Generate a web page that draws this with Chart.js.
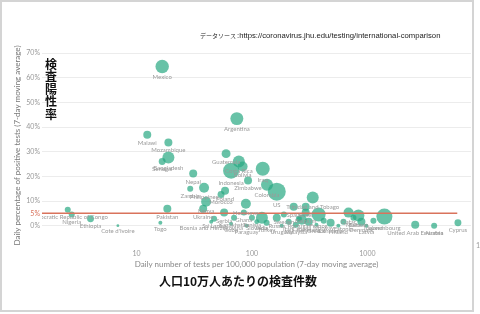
<!DOCTYPE html>
<html>
<head>
<meta charset="utf-8">
<script src="https://cdn.jsdelivr.net/npm/chart.js@4.4.0/dist/chart.umd.min.js"></script>
<style>
  html, body { margin: 0; padding: 0; background: #fff; overflow: hidden; }
  #wrap { width: 480px; height: 314px; }
</style>
</head>
<body>
<div id="wrap"><canvas id="bubbleChart" width="480" height="314"></canvas></div>
<script>
  // country names, tests per 100k (x), positivity % (y), bubble size value
  let countries = [
    "Mexico", "Argentina", "Malawi", "Mozambique", "Bangladesh", "Senegal", "Nepal", "Guatemala",
    "Costa Rica", "Bolivia", "Indonesia", "Iraq", "Zimbabwe", "Colombia", "US", "Trinidad and Tobago",
    "Zambia", "Philippines", "Morocco", "Poland", "Pakistan", "Togo", "Kenya", "Ukraine",
    "Serbia", "Bosnia and Herzegovina", "Democratic Republic of Congo", "Nigeria", "Ethiopia", "Cote d'Ivoire",
    "Honduras", "India", "Russia", "Spain", "Canada", "Germany", "France", "Belgium",
    "Ghana", "Tunisia", "Sweden", "Italy", "Israel", "Qatar", "Bahrain", "Malta",
    "Denmark", "Iceland", "Luxembourg", "United Arab Emirates", "Austria", "Cyprus", "Lithuania",
    "Cuba", "Paraguay", "Turkey", "Uruguay", "Malaysia", "Greece", "Norway", "Finland",
    "Estonia", "Latvia", "Sri Lanka", "Slovakia", "Portugal", "Kazakhstan"
  ];
  let testsPer100k = [
    16.7, 74, 12.4, 18.9, 18.9, 16.7, 31, 59.7,
    77, 83, 66, 124, 92.5, 135, 164, 336,
    29.2, 38.5, 54, 58.5, 18.5, 16.1, 40.1, 37.8,
    57.4, 44.4, 2.54, 2.75, 4.0, 6.9,
    88.6, 122, 164, 230, 270, 310, 378, 292,
    85, 100, 189, 208, 292, 686, 836, 757,
    887, 1127, 1403, 2594, 3784, 6080, 480,
    66, 90, 134, 181, 240, 362, 418, 560,
    620, 980, 47, 110, 255, 70
  ];
  let positivity = [
    64.5, 43.4, 36.9, 33.7, 27.6, 26.0, 21.1, 29.2,
    26.0, 24.0, 22.3, 23.1, 18.3, 16.6, 13.8, 11.4,
    15.0, 15.4, 12.6, 14.2, 6.9, 1.2, 9.7, 6.9,
    5.3, 1.6, 6.5, 4.5, 2.8, 0,
    8.9, 3.2, 3.2, 7.7, 2.4, 1.6, 4.5, 5.3,
    5.3, 3.2, 4.5, 1.6, 7.7, 5.3, 4.1, 3.2,
    1.6, 2.0, 3.7, 0.4, 0, 1.2, 1.2,
    0.8, 0, 1.2, 0, 0.4, 0.4, 2.0, 0,
    1.6, 0, 2.8, 1.6, 2.8, 3.2
  ];
  let sizeValue = [
    45, 42, 16, 16, 36, 12, 16, 20,
    36, 25, 64, 49, 16, 36, 81, 36,
    9, 25, 12, 16, 16, 4, 25, 16,
    16, 4, 9, 9, 12, 2,
    25, 36, 16, 16, 25, 16, 49, 16,
    9, 9, 9, 9, 16, 25, 36, 9,
    16, 9, 64, 16, 9, 12, 16,
    4, 4, 9, 4, 9, 4, 9, 4,
    9, 4, 9, 6, 9, 9
  ];
  let xTicks = [10, 100, 1000];
  let yTicks = [0, 10, 20, 30, 40, 50, 60, 70];
  let threshold = 5;
  let thresholdEnd = 6000;

  let points = [];
  for (let i = 0; i < countries.length; i++) {
    points.push({ x: testsPer100k[i], y: positivity[i], r: Math.sqrt(sizeValue[i]) });
  }

  Chart.defaults.font.family = "Lato, 'Liberation Sans', sans-serif";

  const overlay = {
    id: 'overlay',
    afterDatasetsDraw(chart) {
      const ctx = chart.ctx;
      const area = chart.chartArea;
      const xs = chart.scales.x;
      const ys = chart.scales.y;

      // 5% line
      let y5 = ys.getPixelForValue(threshold);
      ctx.save();
      ctx.strokeStyle = '#d9735c';
      ctx.lineWidth = 1.5;
      ctx.beginPath();
      ctx.moveTo(area.left, y5);
      ctx.lineTo(xs.getPixelForValue(thresholdEnd), y5);
      ctx.stroke();
      ctx.fillStyle = '#d9735c';
      ctx.font = "7px Lato, 'Liberation Sans', sans-serif";
      ctx.textAlign = 'right';
      ctx.textBaseline = 'middle';
      ctx.fillText('5%', area.left - 2, y5);
      ctx.restore();

      // country labels
      ctx.save();
      ctx.beginPath();
      ctx.rect(area.left, area.top, area.right - area.left, area.bottom - area.top);
      ctx.clip();
      ctx.font = "6px Lato, 'Liberation Sans', sans-serif";
      ctx.fillStyle = '#9a9a9a';
      ctx.textAlign = 'center';
      ctx.textBaseline = 'middle';
      chart.getDatasetMeta(0).data.forEach((pt, i) => {
        ctx.fillText(countries[i], pt.x, pt.y + pt.options.radius + 4);
      });
      ctx.restore();
    },
    afterDraw(chart) {
      const ctx = chart.ctx;
      const xs = chart.scales.x;
      ctx.save();
      // clipped 10000 label at the right edge
      ctx.fillStyle = '#999';
      ctx.font = "7px Lato, 'Liberation Sans', sans-serif";
      ctx.textAlign = 'left';
      ctx.textBaseline = 'middle';
      ctx.fillText('10000', xs.getPixelForValue(10000) - 7, 246);

      ctx.textAlign = 'center';
      ctx.fillStyle = '#111';
      ctx.font = "bold 12px 'Noto Sans CJK JP'";
      let label = '検査陽性率';
      for (let i = 0; i < label.length; i++) {
        ctx.fillText(label[i], 51, 64 + i * 12.6);
      }
      ctx.fillText('人口10万人あたりの検査件数', 238, 281);

      // data source line
      ctx.textAlign = 'left';
      ctx.fillStyle = '#222';
      let sx = 200;
      ctx.font = "6px 'Noto Sans CJK JP'";
      ctx.fillText('データソース', sx, 36);
      sx += ctx.measureText('データソース').width + 1;
      ctx.font = "7.7px 'Liberation Sans', sans-serif";
      ctx.fillText(':https://coronavirus.jhu.edu/testing/international-comparison', sx, 36);

      // frame
      ctx.strokeStyle = '#d4d4d4';
      ctx.lineWidth = 2;
      ctx.strokeRect(1, 1, 472, 310);
      ctx.restore();
    }
  };

  let ctxBubble = document.getElementById('bubbleChart');

  var bubbleChart = new Chart(ctxBubble, {
    type: 'bubble',
    data: {
      datasets: [{
        data: points,
        backgroundColor: 'rgba(40,168,130,0.7)',
        borderWidth: 0,
        clip: false
      }]
    },
    options: {
      responsive: false,
      animation: false,
      events: [],
      layout: { padding: { top: 53, right: 7, bottom: 45, left: 0 } },
      plugins: { legend: { display: false }, tooltip: { enabled: false } },
      scales: {
        x: {
          type: 'logarithmic',
          min: 1.52,
          max: 7890,
          afterBuildTicks: (scale) => { scale.ticks = xTicks.map(v => ({ value: v })); },
          afterFit: (scale) => { scale.height = 31; },
          grid: { display: false },
          border: { display: false },
          ticks: {
            color: '#999',
            font: { size: 7 },
            padding: 4,
            maxRotation: 0,
            callback: (v) => String(v)
          },
          title: {
            display: true,
            text: 'Daily number of tests per 100,000 population (7-day moving average)',
            color: '#888',
            font: { size: 8 },
            padding: { top: 4, bottom: 0 }
          }
        },
        y: {
          min: -5,
          max: 70,
          afterBuildTicks: (scale) => { scale.ticks = yTicks.map(v => ({ value: v })); },
          afterFit: (scale) => { scale.width = 42; },
          grid: { color: '#ececec', drawTicks: false },
          border: { display: false },
          ticks: {
            color: '#999',
            font: { size: 7 },
            padding: 2,
            callback: (v) => v + '%'
          },
          title: {
            display: true,
            text: 'Daily percentage of positive tests (7-day moving average)',
            color: '#777',
            font: { size: 8 },
            padding: { top: 13, bottom: 0 }
          }
        }
      }
    },
    plugins: [overlay]
  });
</script>
</body>
</html>
